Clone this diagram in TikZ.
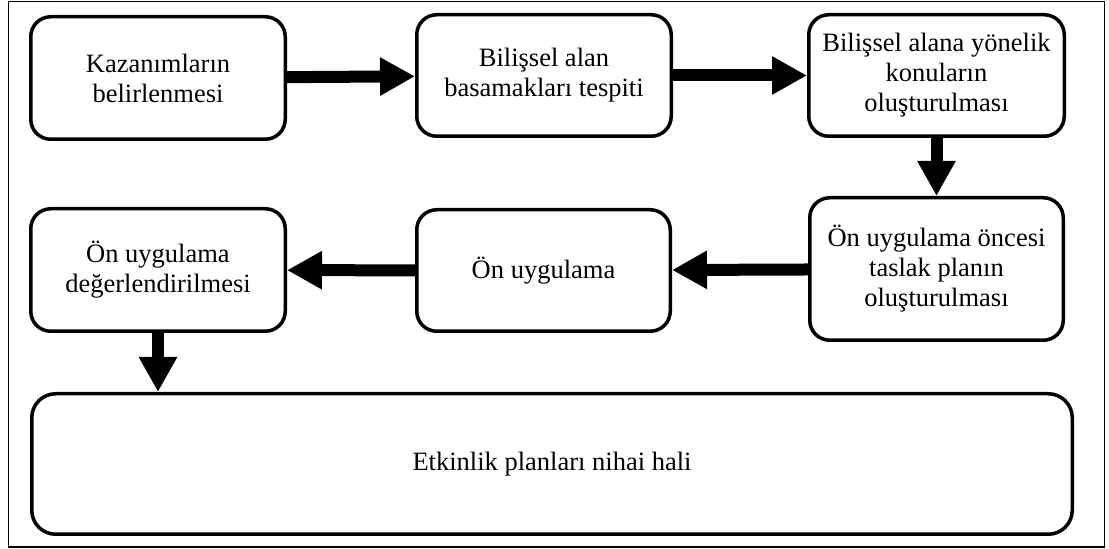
\documentclass[tikz,border=0pt]{standalone}
\usepackage{fontspec}
\setmainfont{Liberation Serif}
\usetikzlibrary{arrows.meta}
\begin{document}
\begin{tikzpicture}[x=0.5pt,y=-0.5pt,
  stepbox/.style={draw=black,line width=1.75pt,rounded corners=10pt,fill=white,
    align=center,inner sep=0pt,font=\fontsize{13.25}{15}\selectfont},
  flow/.style={line width=6pt,-{Triangle[length=17.5pt,width=18pt]}}]
\useasboundingbox (0,0) rectangle (1109,549);
\draw[line width=0.75pt] (8.5,1.5) rectangle (1104.5,547);
\node[stepbox,minimum width=127.25pt,minimum height=61.25pt] (b1) at (158,78) {Kazanımların\\belirlenmesi};
\node[stepbox,minimum width=127.25pt,minimum height=60.75pt] (b2) at (544,75.5) {Bilişsel alan\\basamakları tespiti};
\node[stepbox,minimum width=127.75pt,minimum height=60.75pt] (b3) at (936.5,75.5) {Bilişsel alana yönelik\\konuların\\oluşturulması};
\node[stepbox,minimum width=126.75pt,minimum height=71.25pt] (b4) at (936.5,269) {Ön uygulama öncesi\\taslak planın\\oluşturulması};
\node[stepbox,minimum width=126.75pt,minimum height=60.75pt] (b5) at (543.5,270.5) {Ön uygulama};
\node[stepbox,minimum width=127.25pt,minimum height=61.25pt] (b6) at (158,270) {Ön uygulama\\değerlendirilmesi};
\node[stepbox,rounded corners=12pt,minimum width=520.25pt,minimum height=70.25pt] (b7) at (552,464) {Etkinlik planları nihai hali};
\draw[flow] (b1) -- (b2);
\draw[flow] (b2) -- (b3);
\draw[flow] (b3) -- (b4);
\draw[flow] (b4) -- (b5);
\draw[flow] (b5) -- (b6);
\draw[flow] (b6.south) -- (b6.south |- b7.north);
\end{tikzpicture}
\end{document}
